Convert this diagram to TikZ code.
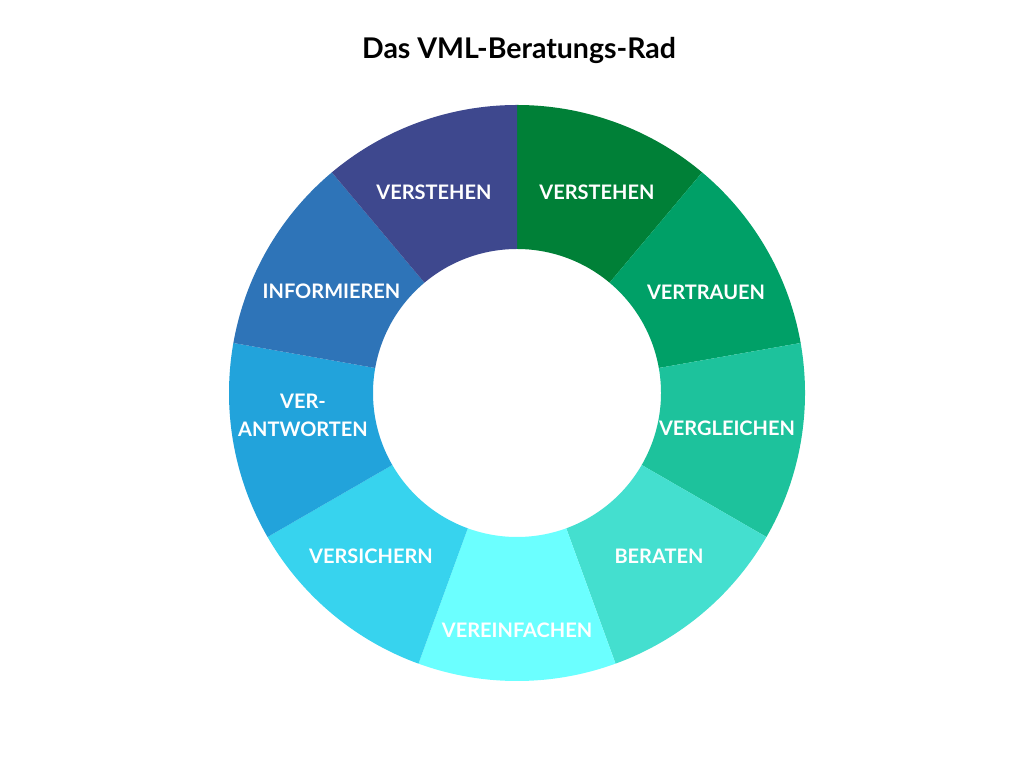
\documentclass[tikz,border=0pt]{standalone}
\usepackage{fontspec}
\setmainfont{Lato}
\usetikzlibrary{calc}
\definecolor{cA}{HTML}{008037}
\definecolor{cB}{HTML}{00A067}
\definecolor{cC}{HTML}{1DC29C}
\definecolor{cD}{HTML}{44DFCF}
\definecolor{cE}{HTML}{6BFFFF}
\definecolor{cF}{HTML}{37D3EE}
\definecolor{cG}{HTML}{22A3DB}
\definecolor{cH}{HTML}{2E74B8}
\definecolor{cI}{HTML}{3E488E}
\begin{document}
\begin{tikzpicture}[x=1pt,y=1pt,
  seglabel/.style={text=white,font=\fontsize{20}{28}\selectfont\bfseries,align=center,inner sep=0pt},
  titlelabel/.style={text=black,font=\fontsize{28.5}{32}\selectfont\bfseries,inner sep=0pt,anchor=base}]
\fill[white] (0,0) rectangle (1024,768);
\useasboundingbox (0,0) rectangle (1024,768);
\coordinate (c) at (517,375);
\def\Ro{288}
\def\Ri{144}
\foreach \i/\col in {0/cA,1/cB,2/cC,3/cD,4/cE,5/cF,6/cG,7/cH,8/cI}{
  \pgfmathsetmacro{\a}{90-40*\i}
  \pgfmathsetmacro{\b}{50-40*\i}
  \fill[\col] ($(c)+(\a:\Ro)$) arc[start angle=\a,end angle=\b,radius=\Ro]
    -- ($(c)+(\b:\Ri)$) arc[start angle=\b,end angle=\a,radius=\Ri] -- cycle;
}
\node[titlelabel] (title) at (519,709) {Das VML-Beratungs-Rad};
\node[seglabel] (l1) at (597,576) {VERSTEHEN};
\node[seglabel] (l2) at (706,476) {VERTRAUEN};
\node[seglabel] (l3) at (727,340) {VERGLEICHEN};
\node[seglabel] (l4) at (659,212) {BERATEN};
\node[seglabel] (l5) at (517,138) {VEREINFACHEN};
\node[seglabel] (l6) at (371,212) {VERSICHERN};
\node[seglabel] (l7) at (303,353) {VER-\\ANTWORTEN};
\node[seglabel] (l8) at (331.5,476.5) {INFORMIEREN};
\node[seglabel] (l9) at (434,576) {VERSTEHEN};
\end{tikzpicture}
\end{document}
